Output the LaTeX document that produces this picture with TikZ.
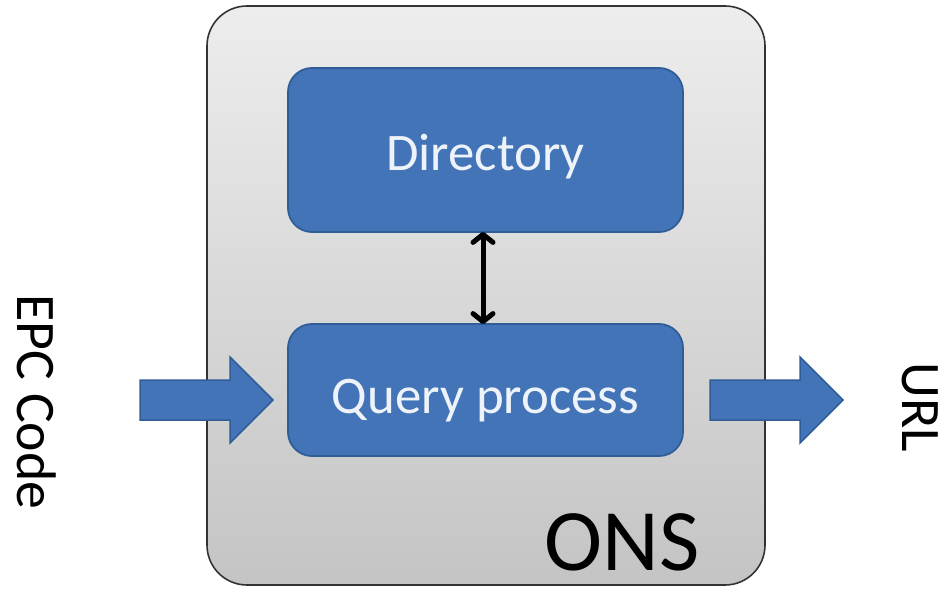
\documentclass[tikz,border=0pt]{standalone}
\usepackage{fontspec}
\setmainfont{Carlito}
\usetikzlibrary{arrows.meta}
\definecolor{blockblue}{HTML}{4374B7}
\definecolor{blockedge}{HTML}{2F5D97}
\definecolor{boxtop}{HTML}{EDEDED}
\definecolor{boxbottom}{HTML}{C4C4C4}
\definecolor{labelwhite}{HTML}{EEF3FA}
\tikzset{
  onsbox/.style={draw=black!80, line width=1.6bp, rounded corners=40bp,
    top color=boxtop, bottom color=boxbottom,
    minimum width=558bp, minimum height=579bp, inner sep=0pt},
  block/.style={draw=blockedge, line width=1.8bp, fill=blockblue, rounded corners=24bp,
    minimum width=395bp, inner sep=0pt},
  blocktext/.style={text=labelwhite, inner sep=0pt, font=\fontsize{53}{60}\selectfont},
  blockarrow/.style={draw=blockedge, line width=1.5bp, fill=blockblue},
  sidelabel/.style={rotate=-90, inner sep=0pt, font=\fontsize{56}{60}\selectfont},
  linkline/.style={line width=5bp, draw=black, line cap=round,
    {Straight Barb[length=8bp,width=20bp,line cap=round,line join=round]}-{Straight Barb[length=8bp,width=20bp,line cap=round,line join=round]}}
}
\begin{document}
\begin{tikzpicture}[x=1bp,y=-1bp]
\useasboundingbox (0,0) rectangle (949,595);
% outer ONS container
\node[onsbox] (ons) at (486,295.5) {};
% inner blocks and their captions
\node[block, minimum height=164bp] (dir) at (485.5,150) {};
\node[block, minimum height=132bp] (query) at (485.5,390) {};
\node[blocktext] (dirtext) at ([yshift=-7bp]dir.center) {Directory};
\node[blocktext] (querytext) at ([yshift=-11bp]query.center) {Query process};
\draw[linkline] ([xshift=-2.5bp,yshift=1bp]dir.south) -- ([xshift=-2.5bp,yshift=-1bp]query.north);
% container caption
\node[anchor=base east, inner sep=0pt, font=\fontsize{88}{90}\selectfont] (onslabel) at (700,570) {ONS};
% input and output labels
\node[sidelabel] (epc) at (37,402) {EPC Code};
\node[sidelabel] (url) at (920,407) {URL};
% block arrows in and out
\draw[blockarrow] (140,380) -- (230,380) -- (230,357) -- (273,400) -- (230,443) -- (230,420) -- (140,420) -- cycle;
\draw[blockarrow] (710,380) -- (800,380) -- (800,357) -- (843,400) -- (800,443) -- (800,420) -- (710,420) -- cycle;
\end{tikzpicture}
\end{document}
